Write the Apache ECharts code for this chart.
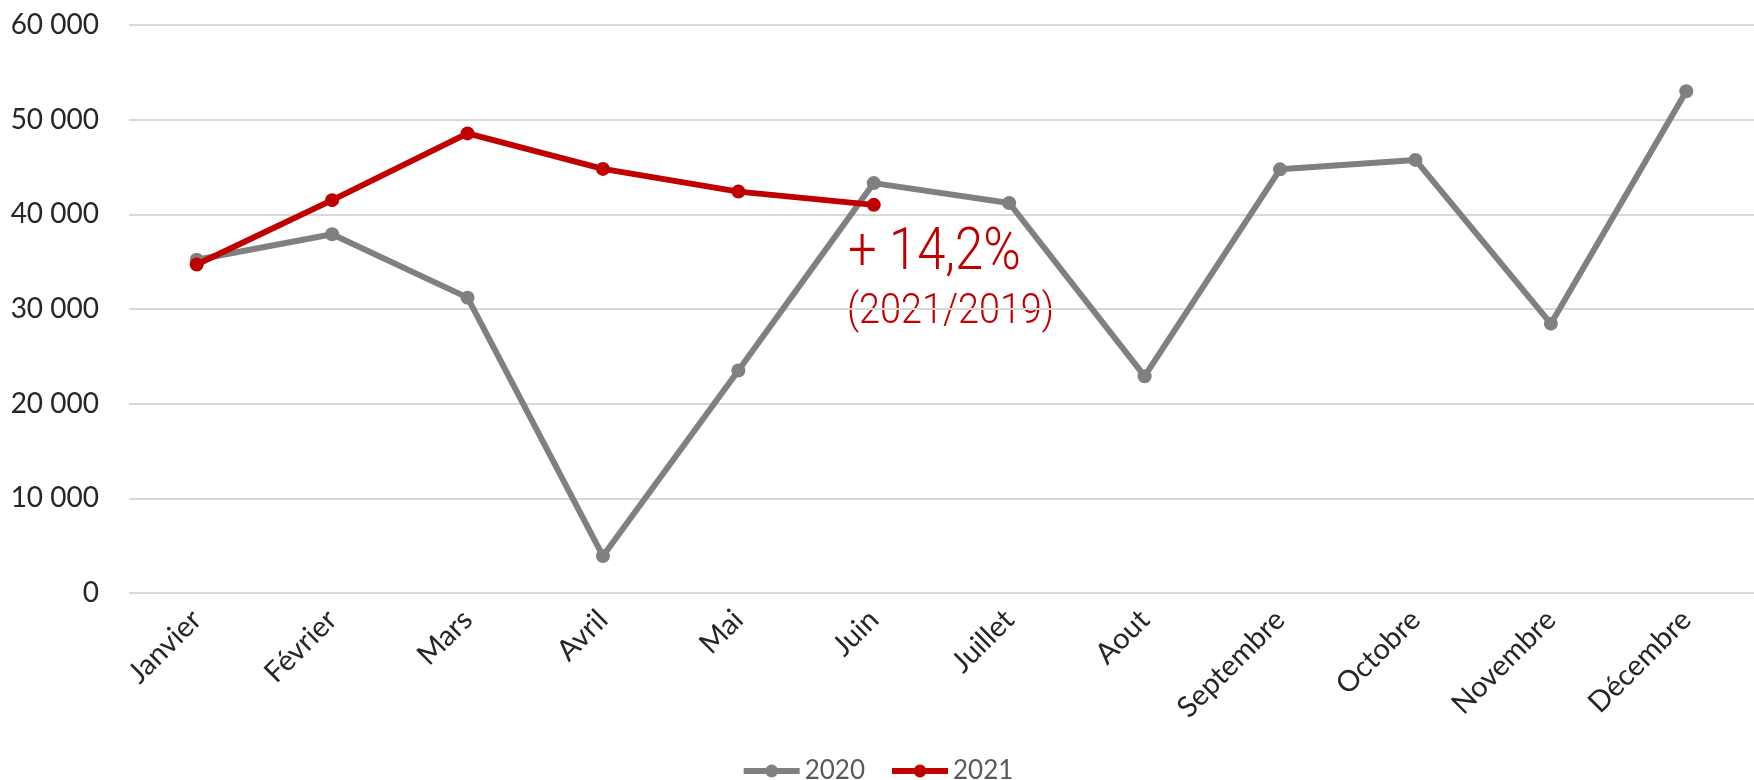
<!DOCTYPE html>
<html>
<head>
<meta charset="utf-8">
<style>
  html, body { margin: 0; padding: 0; background: #ffffff; }
  #chart { width: 1754px; height: 780px; }
</style>
<script src="https://cdn.jsdelivr.net/npm/echarts@6/dist/echarts.min.js"></script>
</head>
<body>
<div id="chart"></div>
<script>
const categories = ['Janvier', 'Février', 'Mars', 'Avril', 'Mai', 'Juin', 'Juillet', 'Aout', 'Septembre', 'Octobre', 'Novembre', 'Décembre'];
const values2020 = [35200, 37900, 31200, 3900, 23500, 43300, 41200, 22900, 44750, 45750, 28450, 53000];
const values2021 = [34700, 41500, 48550, 44800, 42400, 41000];
const yTicks = [0, 10000, 20000, 30000, 40000, 50000, 60000];
const annotationMain = '+ 14,2%';
const annotationSub = '(2021/2019)';

const baseFont = 'Lato, "Open Sans", sans-serif';
const annotFont = 'Roboto, "Noto Sans", sans-serif';

function fmt(v) {
  return String(v).replace(/\B(?=(\d{3})+(?!\d))/g, ' ');
}

const chart = echarts.init(document.getElementById('chart'), null, { renderer: 'canvas' });
chart.setOption({
  animation: false,
  backgroundColor: '#ffffff',
  grid: { left: 129, right: -9, top: 25, bottom: 187, containLabel: false },
  xAxis: {
    type: 'category',
    data: categories,
    boundaryGap: true,
    axisLine: { show: false },
    axisTick: { show: false },
    axisLabel: {
      rotate: 45,
      margin: 22,
      fontSize: 29,
      fontFamily: baseFont,
      color: '#262626',
      interval: 0
    }
  },
  yAxis: {
    type: 'value',
    min: yTicks[0],
    max: yTicks[yTicks.length - 1],
    interval: yTicks[1] - yTicks[0],
    axisLine: { show: false },
    axisTick: { show: false },
    splitLine: { lineStyle: { color: '#d9d9d9', width: 2 } },
    axisLabel: {
      margin: 30,
      fontSize: 28,
      fontFamily: baseFont,
      color: '#262626',
      formatter: fmt
    }
  },
  legend: {
    top: 753,
    left: 'center',
    itemWidth: 56,
    itemHeight: 16,
    itemGap: 24,
    lineStyle: { width: 6 },
    textStyle: { fontSize: 26, fontFamily: baseFont, color: '#595959' },
    data: ['2020', '2021']
  },
  series: [
    {
      name: '2020',
      type: 'line',
      data: values2020,
      symbol: 'circle',
      symbolSize: 14,
      lineStyle: { color: '#808080', width: 6 },
      itemStyle: { color: '#808080' },
      z: 2
    },
    {
      name: '2021',
      type: 'line',
      data: values2021,
      symbol: 'circle',
      symbolSize: 14,
      lineStyle: { color: '#c00000', width: 6 },
      itemStyle: { color: '#c00000' },
      z: 3
    }
  ],
  graphic: [
    {
      type: 'text',
      x: 848,
      y: 225,
      scaleX: 0.86,
      style: { text: annotationMain, fontSize: 59, fontFamily: annotFont, fontWeight: 300, fill: '#c00000' }
    },
    {
      type: 'text',
      x: 847,
      y: 291,
      scaleX: 0.9,
      style: { text: annotationSub, fontSize: 42, fontFamily: annotFont, fontWeight: 300, fill: '#c00000' }
    }
  ]
});
</script>
</body>
</html>
